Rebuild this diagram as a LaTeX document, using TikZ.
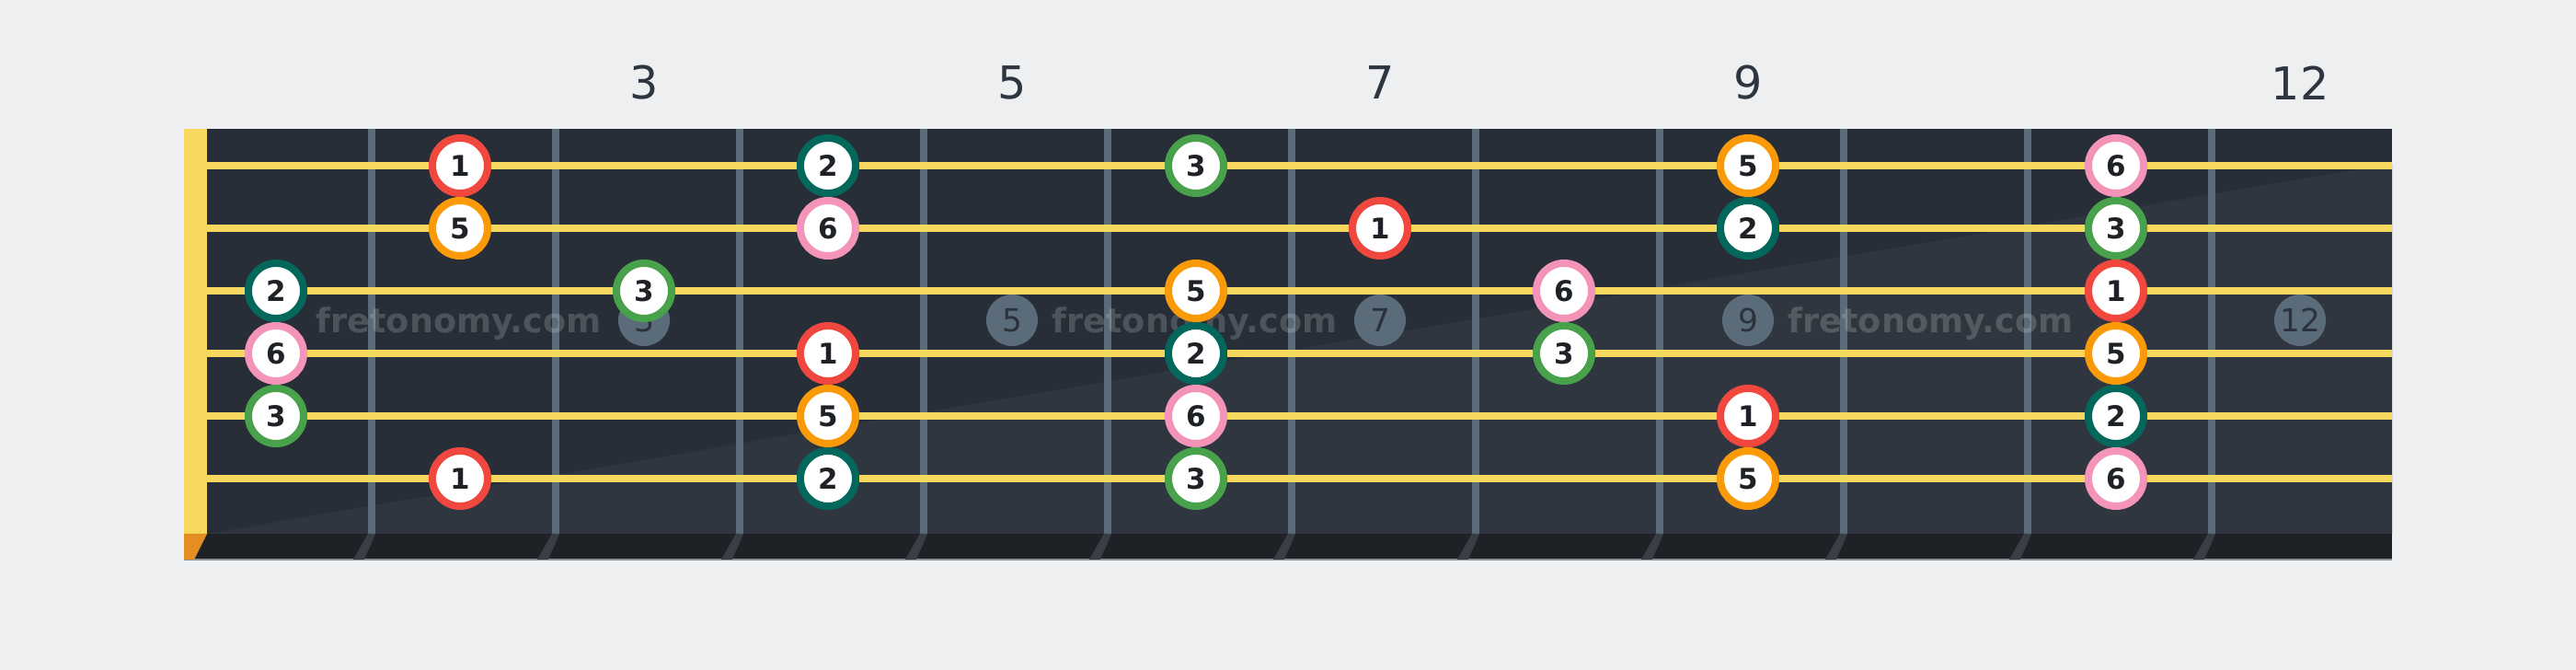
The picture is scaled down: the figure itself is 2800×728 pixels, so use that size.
\documentclass[tikz,border=0pt]{standalone}
\usepackage{fontspec}
\setmainfont{DejaVu Sans}
\usetikzlibrary{positioning}

\definecolor{pagebg}{HTML}{EEEFF1}
\definecolor{boardtop}{HTML}{282E37}
\definecolor{boardlow}{HTML}{30363F}
\definecolor{boardedge}{HTML}{1E2125}
\definecolor{edgeline}{HTML}{8C9096}
\definecolor{fretgray}{HTML}{5B6B79}
\definecolor{fretfoot}{HTML}{3A3F46}
\definecolor{stringyel}{HTML}{F7D85F}
\definecolor{nutfoot}{HTML}{E38D22}
\definecolor{inlaygray}{HTML}{5A6B7A}
\definecolor{inlaytext}{HTML}{2B323B}
\definecolor{labeltext}{HTML}{2D3540}
\definecolor{digittext}{HTML}{1E2227}
\definecolor{degA}{HTML}{F0483E}
\definecolor{degB}{HTML}{03685B}
\definecolor{degC}{HTML}{48A14B}
\definecolor{degE}{HTML}{FA9A08}
\definecolor{degF}{HTML}{F394B8}

\begin{document}
\begin{tikzpicture}[x=0.01cm, y=-0.01cm,
  note/.style={circle, fill=white, line width=2.28pt, minimum size=0.60cm, inner sep=0pt,
    text=digittext, font=\fontsize{8.8}{10}\selectfont\bfseries},
  deg1/.style={draw=degA}, deg2/.style={draw=degB}, deg3/.style={draw=degC},
  deg5/.style={draw=degE}, deg6/.style={draw=degF},
  inlay/.style={circle, fill=inlaygray, minimum size=0.56cm, inner sep=0pt,
    text=inlaytext, font=\fontsize{9.8}{11}\selectfont},
  fretnum/.style={inner sep=0pt, text=labeltext, font=\fontsize{14}{16}\selectfont},
  wmark/.style={inner sep=0pt, anchor=base west, text=white, text opacity=0.18,
    font=\fontsize{10.4}{12}\selectfont\bfseries},
  guitarstring/.style={draw=stringyel, line width=2.28pt}]

  \useasboundingbox (0,0) rectangle (2800,728);
  \fill[pagebg] (0,0) rectangle (2800,728);

  % board
  \fill[boardtop] (225,140) rectangle (2600,580);
  \fill[boardlow] (225,580) -- (2600,178) -- (2600,580) -- cycle;
  \fill[boardedge] (200,580) rectangle (2600,608);
  \draw[edgeline, line width=0.45pt] (200,608) -- (2600,608);

  % frets
  \foreach \k [evaluate=\k as \xf using 204+200*\k] in {1,...,11} {
    \fill[fretgray] (\xf-4,140) rectangle (\xf+4,580);
    \fill[fretfoot] (\xf-4,580) -- (\xf+4,580) -- (\xf-8,608) -- (\xf-20,608) -- cycle;
  }

  % nut
  \fill[stringyel] (200,140) rectangle (225,580);
  \fill[nutfoot] (200,580) -- (225,580) -- (211,608) -- (200,608) -- cycle;

  % inlays and fret numbers
  \foreach \f in {3,5,7,9,12} {
    \node[inlay] (dot\f) at ({100+200*\f},348) {\f};
    \node[fretnum] (num\f) at ({100+200*\f},90) {\f};
  }

  \foreach \w in {343,1143,1943}
    \node[wmark] (wm\w) at (\w,362) {fretonomy.com};

  % strings
  \foreach \r in {1,...,6}
    \draw[guitarstring] (225,{112+68*\r}) -- (2600,{112+68*\r});

  % scale degrees
  \foreach \r/\f/\d in {1/2/1, 1/4/2, 1/6/3, 1/9/5, 1/11/6,
                        2/2/5, 2/4/6, 2/7/1, 2/9/2, 2/11/3,
                        3/1/2, 3/3/3, 3/6/5, 3/8/6, 3/11/1,
                        4/1/6, 4/4/1, 4/6/2, 4/8/3, 4/11/5,
                        5/1/3, 5/4/5, 5/6/6, 5/9/1, 5/11/2,
                        6/2/1, 6/4/2, 6/6/3, 6/9/5, 6/11/6}
    \node[note, deg\d] (n\r-\f) at ({100+200*\f},{112+68*\r}) {\d};
\end{tikzpicture}
\end{document}
